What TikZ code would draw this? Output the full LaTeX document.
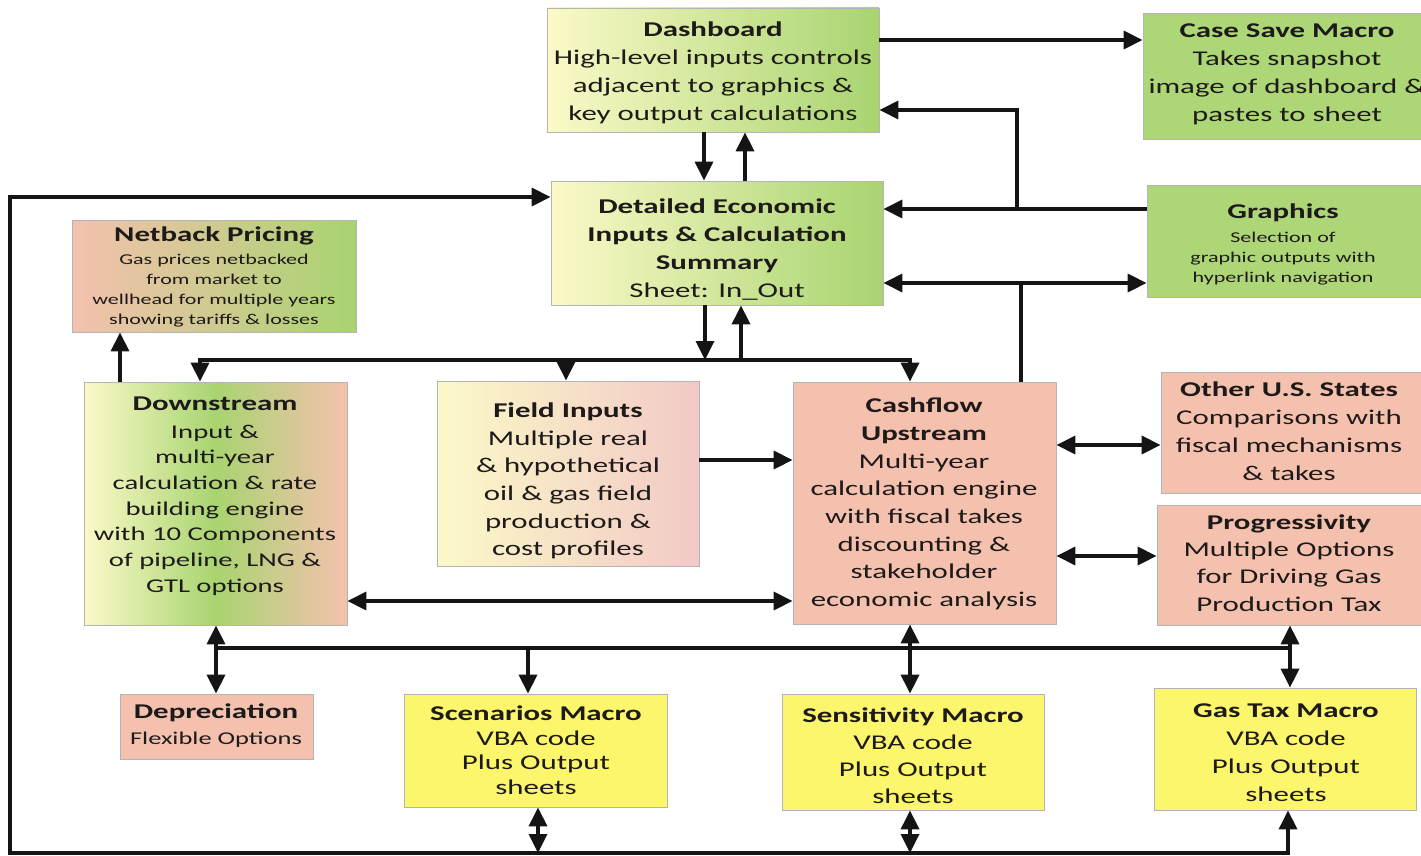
\documentclass[tikz,border=0pt]{standalone}
\usepackage{fontspec}
\setmainfont{Carlito}[FakeStretch=1.47]
\usetikzlibrary{arrows.meta}
\definecolor{txt}{HTML}{1E1A1A}
\definecolor{boxline}{HTML}{B4B4B4}
\definecolor{yl}{HTML}{FBF9C8}
\definecolor{gr}{HTML}{A8D470}
\definecolor{grs}{HTML}{ADD677}
\definecolor{pk}{HTML}{F4C1AE}
\definecolor{pkl}{HTML}{F2C9C6}
\definecolor{my}{HTML}{FBF66B}
\begin{document}
\begin{tikzpicture}[x=1pt,y=-1pt,
  box/.style={draw=boxline, line width=0.8pt, inner sep=0pt, anchor=center},
  lbl/.style={align=center, text=txt, inner sep=0pt, font=\fontsize{21}{28}\selectfont},
  wire/.style={line width=3.4pt, draw=black!92},
  arr/.style={wire, -{Triangle[length=19pt,width=18pt]}},
  darr/.style={wire, {Triangle[length=19pt,width=18pt]}-{Triangle[length=19pt,width=18pt]}},
  bus/.style={wire, line cap=rect, line join=miter},
]
\useasboundingbox[fill=white] (0,0) rectangle (1421,856);

% ---------- boxes ----------
\node[box, minimum width=332pt, minimum height=124pt, left color=yl, right color=gr] (dash) at (713,70) {};
\node[box, fill=grs, minimum width=288pt, minimum height=126pt] (case) at (1287,76) {};
\node[box, minimum width=332pt, minimum height=124pt, left color=yl, right color=gr] (det) at (717,243) {};
\node[box, fill=grs, minimum width=274pt, minimum height=112pt] (graph) at (1284,241) {};
\node[box, minimum width=284pt, minimum height=112pt, left color=pk, right color=gr] (net) at (214,276) {};
\node[box, minimum width=263pt, minimum height=243pt, left color=yl, right color=pk, middle color=gr] (down) at (215.5,503.5) {};
\node[box, minimum width=262pt, minimum height=185pt, left color=yl, right color=pkl] (field) at (568,473.5) {};
\node[box, fill=pk, minimum width=263pt, minimum height=242pt] (cash) at (924.5,503) {};
\node[box, fill=pk, minimum width=262pt, minimum height=121pt] (other) at (1292,432.5) {};
\node[box, fill=pk, minimum width=264pt, minimum height=120pt] (prog) at (1289,565) {};
\node[box, fill=pk, minimum width=193pt, minimum height=65pt] (dep) at (216.5,726.5) {};
\node[box, fill=my, minimum width=263pt, minimum height=113pt] (scen) at (536,750.5) {};
\node[box, fill=my, minimum width=262pt, minimum height=116pt] (sens) at (913,752) {};
\node[box, fill=my, minimum width=262pt, minimum height=122pt] (gas) at (1285,749) {};

% ---------- texts ----------
\node[lbl] (dashT) at (713,73) {\textbf{Dashboard}\\High-level inputs controls\\adjacent to graphics \&\\key output calculations};
\node[lbl] (caseT) at (1287,74.5) {\textbf{Case Save Macro}\\Takes snapshot\\image of dashboard \&\\pastes to sheet};
\node[lbl] (detT) at (717,250) {\textbf{Detailed Economic}\\\textbf{Inputs \& Calculation}\\\textbf{Summary}\\Sheet: In\_Out};
\node[lbl, font=\fontsize{15}{20}\selectfont] (graphT) at (1283,244) {{\bfseries\fontsize{21}{24}\selectfont Graphics}\\[4pt]Selection of\\graphic outputs with\\hyperlink navigation};
\node[lbl, font=\fontsize{15}{20}\selectfont] (netT) at (214,276.5) {{\bfseries\fontsize{21}{24}\selectfont Netback Pricing}\\[3pt]Gas prices netbacked\\from market to\\wellhead for multiple years\\showing tariffs \& losses};
\node[lbl, font=\fontsize{19.5}{25.7}\selectfont] (downT) at (215,496) {{\bfseries\fontsize{21}{25}\selectfont Downstream}\\[2.3pt]Input \&\\multi-year\\calculation \& rate\\building engine\\with 10 Components\\of pipeline, LNG \&\\GTL options};
\node[lbl, font=\fontsize{21}{27.6}\selectfont] (fieldT) at (568,481) {\textbf{Field Inputs}\\Multiple real\\\& hypothetical\\oil \& gas field\\production \&\\cost profiles};
\node[lbl, font=\fontsize{21}{27.7}\selectfont] (cashT) at (924,504) {\textbf{Cashflow}\\\textbf{Upstream}\\Multi-year\\calculation engine\\with fiscal takes\\discounting \&\\stakeholder\\economic analysis};
\node[lbl] (otherT) at (1289,431) {\textbf{Other U.S. States}\\Comparisons with\\fiscal mechanisms\\\& takes};
\node[lbl, font=\fontsize{21}{27.3}\selectfont] (progT) at (1289,563) {\textbf{Progressivity}\\Multiple Options\\for Driving Gas\\Production Tax};
\node[lbl, font=\fontsize{18}{24}\selectfont] (depT) at (216,726) {{\bfseries\fontsize{21}{24}\selectfont Depreciation}\\[2pt]Flexible Options};
\node[lbl, font=\fontsize{21}{24.5}\selectfont] (scenT) at (536,750) {\textbf{Scenarios Macro}\\VBA code\\Plus Output\\sheets};
\node[lbl, font=\fontsize{21}{27}\selectfont] (sensT) at (913,756) {\textbf{Sensitivity Macro}\\VBA code\\Plus Output\\sheets};
\node[lbl] (gasT) at (1286,753) {\textbf{Gas Tax Macro}\\VBA code\\Plus Output\\sheets};

% ---------- junction coordinates ----------
\coordinate (j1) at (1017,209);
\coordinate (j2) at (1021,283);
\coordinate (bL) at (200,360);
\coordinate (bR) at (910,360);
\coordinate (cL) at (216,648);
\coordinate (cR) at (1290,648);
\coordinate (lpR) at (1288,853);

% ---------- connectors ----------
\draw[arr] (dash.east |- 0,40) -- (case.west |- 0,40);
\draw[arr] (graph.west |- j1) -- (det.east |- j1);
\draw[arr] (j1) -- (1017,110) -- (dash.east |- 0,110);
\draw[arr] (dash.south -| 704,0) -- (det.north -| 704,0);
\draw[arr] (det.north -| 745,0) -- (dash.south -| 745,0);
\draw[darr] (det.east |- j2) -- (graph.west |- j2);
\draw[wire] (j2) -- (cash.north -| j2);

\draw[arr] (det.south -| 705,0) -- (705,360);
\draw[arr] (741,360) -- (det.south -| 741,0);
\draw[bus] (bL) -- (bR);
\draw[arr] (bL) -- (down.north -| bL);
\draw[arr] (566,360) -- (field.north -| 566,0);
\draw[arr] (bR) -- (cash.north -| bR);

\draw[arr] (down.north -| 120,0) -- (net.south -| 120,0);
\draw[arr] (field.east |- 0,460) -- (cash.west |- 0,460);
\draw[darr] (down.east |- 0,601) -- (cash.west |- 0,601);
\draw[darr] (cash.east |- 0,445) -- (other.west |- 0,445);
\draw[darr] (cash.east |- 0,556) -- (prog.west |- 0,556);

\draw[bus] (cL) -- (cR);
\draw[darr] (down.south -| cL) -- (dep.north -| cL);
\draw[arr] (528,648) -- (scen.north -| 528,0);
\draw[darr] (cash.south -| 910,0) -- (sens.north -| 910,0);
\draw[darr] (prog.south -| cR) -- (gas.north -| cR);

\draw[arr, line cap=rect, line join=miter] (lpR) -- (10,853) -- (10,197) -- (det.west |- 0,197);
\draw[arr] (lpR) -- (gas.south -| lpR);
\draw[darr] (scen.south -| 538,0) -- (538,853);
\draw[darr] (sens.south -| 910,0) -- (910,853);
\end{tikzpicture}
\end{document}
